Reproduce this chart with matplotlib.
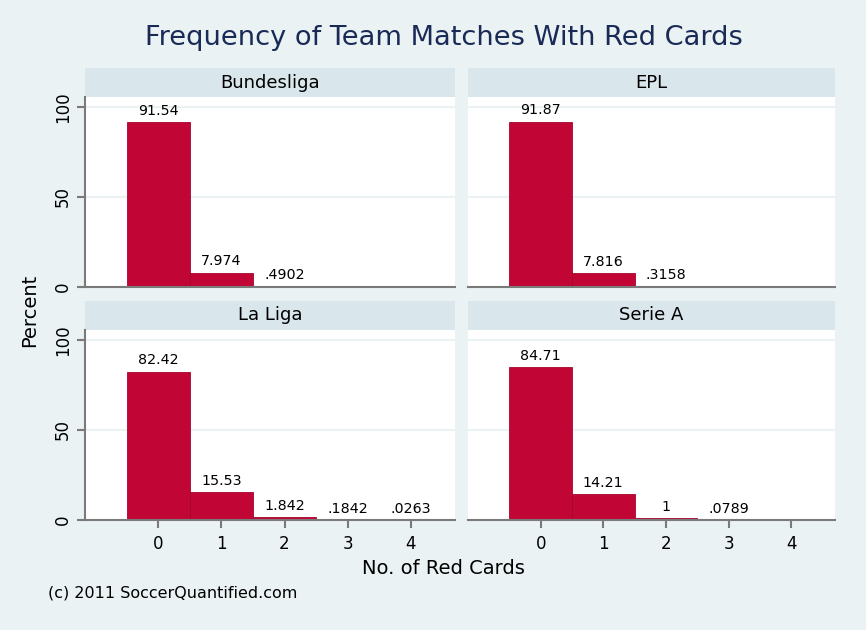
import numpy as np
import matplotlib
matplotlib.use("Agg")
import matplotlib.pyplot as plt

# Percent of team matches by number of red cards
leagues = ["Bundesliga", "EPL", "La Liga", "Serie A"]
cards = [0, 1, 2, 3, 4]
bundesliga = [91.54, 7.974, 0.4902]
epl = [91.87, 7.816, 0.3158]
laliga = [82.42, 15.53, 1.842, 0.1842, 0.0263]
seriea = [84.71, 14.21, 1, 0.0789]
values = [bundesliga, epl, laliga, seriea]

BG = "#eaf2f3"
STRIP = "#d9e6eb"
BAR = "#c10534"
AXC = "#7a7a7a"
W, H = 866, 630


def fmt(v):
    s = f"{v:.4g}"
    if s.startswith("0."):
        s = s[1:]
    return s


def px(x0, y0, x1, y1):
    # pixel box (top-left origin) -> figure fraction rect
    return [x0 / W, 1 - y1 / H, (x1 - x0) / W, (y1 - y0) / H]


fig = plt.figure(figsize=(W / 100, H / 100), dpi=100, facecolor=BG)

boxes = [(85, 68, 455, 287), (468, 68, 835, 287),
         (85, 301, 455, 520), (468, 301, 835, 520)]

for i, (name, vals) in enumerate(zip(leagues, values)):
    x0, y0, x1, y1 = boxes[i]
    strip_bottom = y0 + 29
    # header strip
    hax = fig.add_axes(px(x0, y0, x1, strip_bottom))
    hax.set_facecolor(STRIP)
    hax.set_xticks([])
    hax.set_yticks([])
    for s in hax.spines.values():
        s.set_visible(False)
    hax.text(0.5, 0.5, name, ha="center", va="center", fontsize=13,
             transform=hax.transAxes)

    ax = fig.add_axes(px(x0, strip_bottom, x1, y1))
    ax.set_facecolor("white")
    ax.set_xlim(-1.16, 4.7)
    ax.set_ylim(0, 105.5)
    ax.set_axisbelow(True)
    ax.yaxis.grid(True, color=BG, linewidth=1.5)
    ax.set_yticks([0, 50, 100])
    x = np.arange(len(vals))
    ax.bar(x, vals, width=1.0, color=BAR, edgecolor="#a8042d", linewidth=0.6)
    for xi, v in zip(x, vals):
        ax.annotate(fmt(v), (xi, v), xytext=(0, 3), textcoords="offset points",
                    ha="center", va="bottom", fontsize=10.3)
    for side in ["top", "right"]:
        ax.spines[side].set_visible(False)
    ax.spines["bottom"].set_color(AXC)
    ax.spines["bottom"].set_linewidth(1.5)
    ax.spines["left"].set_color(AXC)
    ax.spines["left"].set_linewidth(1.5)
    ax.tick_params(axis="both", colors=AXC, width=1.5, length=6, labelcolor="black",
                   labelsize=12)
    ax.set_xticks(cards)
    if i % 2 == 1:
        ax.spines["left"].set_visible(False)
        ax.tick_params(axis="y", left=False, labelleft=False)
    else:
        for lab in ax.get_yticklabels():
            lab.set_rotation(90)
            lab.set_va("center")
    if i < 2:
        ax.tick_params(axis="x", bottom=False, labelbottom=False)
    else:
        ax.tick_params(axis="x", pad=5)

fig.text(0.512, 1 - 38 / H, "Frequency of Team Matches With Red Cards",
         ha="center", va="center", fontsize=19.6, color="#1a2a57")
fig.text(30 / W, 1 - 310 / H, "Percent", rotation=90, ha="center", va="center",
         fontsize=14)
fig.text(443 / W, 1 - 568 / H, "No. of Red Cards", ha="center", va="center",
         fontsize=14)
fig.text(48 / W, 1 - 593 / H, "(c) 2011 SoccerQuantified.com", ha="left",
         va="center", fontsize=11.5)

fig.savefig("out.png", dpi=100, facecolor=BG)
